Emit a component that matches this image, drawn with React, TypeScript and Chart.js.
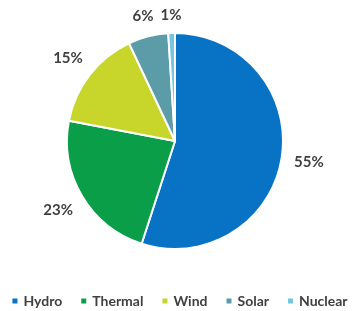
import React, { useEffect, useRef } from "react";
import { Chart, registerables } from "chart.js";

Chart.register(...registerables);

const categories = ["Hydro", "Thermal", "Wind", "Solar", "Nuclear"];
const shares = [55, 23, 15, 6, 1];
const colors = ["#0872C4", "#0A9E48", "#C8D62B", "#5C9CA9", "#74C6E2"];

const FONT_FAMILY = "Lato, 'Open Sans', sans-serif";
const TEXT_COLOR = "#404040";

const pctLabels = {
  id: "pctLabels",
  afterDatasetsDraw(chart: any) {
    const ctx = chart.ctx;
    const meta = chart.getDatasetMeta(0);
    const values = chart.data.datasets[0].data as number[];
    ctx.save();
    ctx.font = `bold 15px ${FONT_FAMILY}`;
    ctx.fillStyle = TEXT_COLOR;
    ctx.textAlign = "center";
    ctx.textBaseline = "middle";
    meta.data.forEach((arc: any, i: number) => {
      const { x, y, startAngle, endAngle, outerRadius } = arc.getProps(
        ["x", "y", "startAngle", "endAngle", "outerRadius"],
        true
      );
      const mid = (startAngle + endAngle) / 2;
      const cx = Math.cos(mid);
      const sy = Math.sin(mid);
      const text = `${values[i]}%`;
      const w = ctx.measureText(text).width;
      const h = 12;
      const d = outerRadius + 1 + 11 + Math.abs(cx) * (w / 2) + Math.abs(sy) * (h / 2);
      ctx.fillText(text, x + cx * d, y + sy * d);
    });
    ctx.restore();
  },
};

const bottomLegend = {
  id: "bottomLegend",
  afterDraw(chart: any) {
    const ctx = chart.ctx;
    const labels = chart.data.labels as string[];
    const bg = chart.data.datasets[0].backgroundColor as string[];
    const box = 5;
    const gapText = 6;
    const gapItem = 19;
    const yMid = 301;
    ctx.save();
    ctx.font = `bold 14px ${FONT_FAMILY}`;
    ctx.textBaseline = "middle";
    ctx.textAlign = "left";
    const widths = labels.map((l) => box + gapText + ctx.measureText(l).width);
    const total = widths.reduce((a, b) => a + b, 0) + gapItem * (labels.length - 1);
    let x = 180 - total / 2;
    labels.forEach((l, i) => {
      ctx.fillStyle = bg[i];
      ctx.fillRect(x, yMid - box / 2, box, box);
      ctx.fillStyle = TEXT_COLOR;
      ctx.fillText(l, x + box + gapText, yMid);
      x += widths[i] + gapItem;
    });
    ctx.restore();
  },
};

export default function App() {
  const ref = useRef<HTMLCanvasElement>(null);
  useEffect(() => {
    if (!ref.current) return;
    const chart = new Chart(ref.current, {
      type: "pie",
      data: {
        labels: categories,
        datasets: [
          {
            data: shares,
            backgroundColor: colors,
            borderColor: "#ffffff",
            borderWidth: 2,
          },
        ],
      },
      options: {
        animation: false,
        responsive: true,
        maintainAspectRatio: false,
        radius: 108,
        layout: { padding: { left: 0, right: 11, top: 0, bottom: 29 } },
        plugins: {
          legend: { display: false },
          tooltip: { enabled: false },
        },
      } as any,
      plugins: [pctLabels, bottomLegend],
    });
    return () => chart.destroy();
  }, []);
  return (
    <div style={{ position: "fixed", left: 0, top: 0, width: 361, height: 311, background: "#fff" }}>
      <canvas ref={ref} />
    </div>
  );
}
